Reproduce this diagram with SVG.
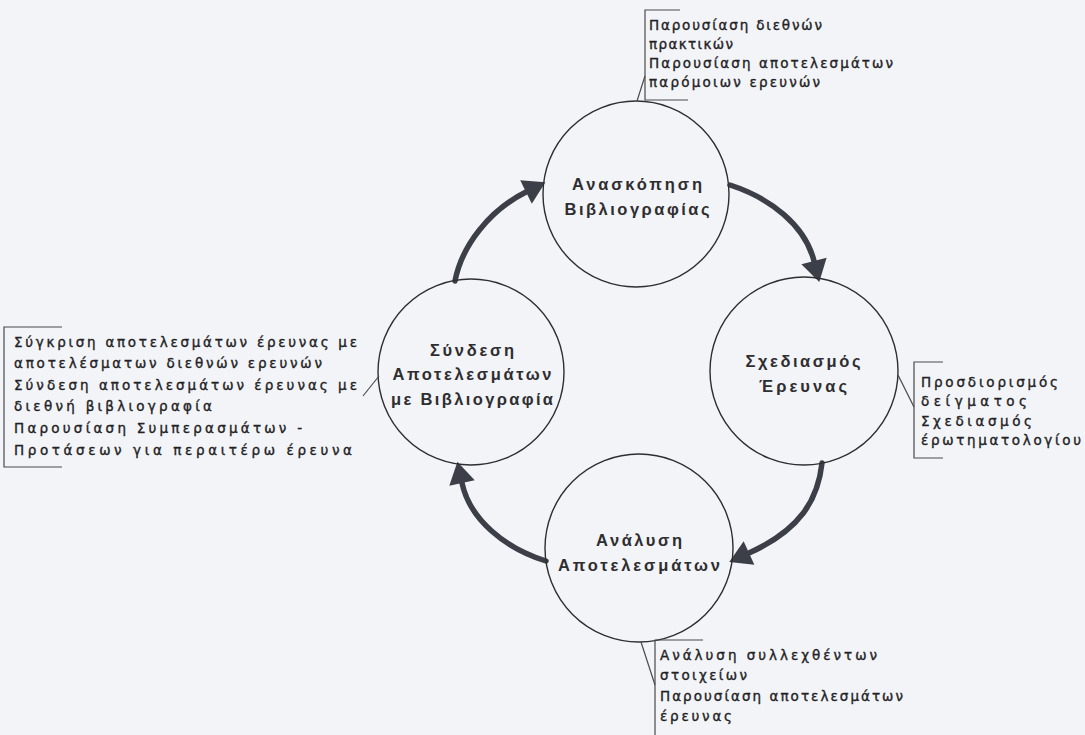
<svg xmlns="http://www.w3.org/2000/svg" width="1085" height="735" viewBox="0 0 1085 735">
  <defs>
    <style>
      .bg { fill: #f3f4f8; }
      .node circle { fill: none; stroke: #2e2e30; stroke-width: 1.4; }
      .node text { font-family: "Liberation Sans", Arial, sans-serif; font-size: 16.5px; font-weight: bold; fill: #2e2e30; text-anchor: middle; }
      .note text { font-family: "DejaVu Sans", "Liberation Sans", sans-serif; font-size: 13.5px; fill: #222224; stroke: #222224; stroke-width: 0.35; }
      .note path { fill: none; stroke: #4a4a4e; stroke-width: 1.2; }
      .arrow { fill: none; stroke: #3c3f47; stroke-width: 5.5; stroke-linecap: round; marker-end: url(#head); }
    </style>
    <marker id="head" markerUnits="userSpaceOnUse" markerWidth="24" markerHeight="26" refX="0" refY="12" orient="auto" viewBox="0 0 20 24">
      <path d="M0,0 L20,12 L0,24 Z" fill="#3c3f47"/>
    </marker>
  </defs>
  <rect class="bg" x="0" y="0" width="1085" height="735"/>

  <g id="connectors">
    <path class="arrow" d="M730,185 C770,198 805,225 814,261"/>
    <path class="arrow" d="M822,463 C818,500 800,530 749,553"/>
    <path class="arrow" d="M546,561 C505,548 470,520 462,483"/>
    <path class="arrow" d="M455,281 C462,245 490,210 526,192"/>
  </g>

  <g id="node-review" class="node">
    <circle cx="636" cy="194" r="93"/>
    <text x="637" y="190" textLength="130" lengthAdjust="spacing">Ανασκόπηση</text>
    <text x="637" y="215" textLength="145" lengthAdjust="spacing">Βιβλιογραφίας</text>
  </g>
  <g id="node-design" class="node">
    <circle cx="804" cy="371" r="94"/>
    <text x="803" y="367" textLength="115" lengthAdjust="spacing">Σχεδιασμός</text>
    <text x="803" y="392" textLength="88" lengthAdjust="spacing">Έρευνας</text>
  </g>
  <g id="node-analysis" class="node">
    <circle cx="639" cy="548" r="94"/>
    <text x="639" y="546" textLength="86" lengthAdjust="spacing">Ανάλυση</text>
    <text x="639" y="571" textLength="162" lengthAdjust="spacing">Αποτελεσμάτων</text>
  </g>
  <g id="node-link" class="node">
    <circle cx="471" cy="372" r="93"/>
    <text x="472" y="356" textLength="84" lengthAdjust="spacing">Σύνδεση</text>
    <text x="472" y="380" textLength="159" lengthAdjust="spacing">Αποτελεσμάτων</text>
    <text x="472" y="405" textLength="162" lengthAdjust="spacing">με Βιβλιογραφία</text>
  </g>

  <g id="note-review" class="note">
    <path d="M680,10 L645,10 L645,100 L688,100"/>
    <path d="M645,76 L637,101"/>
    <text x="649" y="30" textLength="173" lengthAdjust="spacing">Παρουσίαση διεθνών</text>
    <text x="649" y="49" textLength="84" lengthAdjust="spacing">πρακτικών</text>
    <text x="649" y="68" textLength="244" lengthAdjust="spacing">Παρουσίαση αποτελεσμάτων</text>
    <text x="649" y="87" textLength="171" lengthAdjust="spacing">παρόμοιων ερευνών</text>
  </g>
  <g id="note-design" class="note">
    <path d="M943,362 L914,362 L914,458 L943,458"/>
    <path d="M898,375 L914,407"/>
    <text x="921" y="387" textLength="137" lengthAdjust="spacing">Προσδιορισμός</text>
    <text x="921" y="406" textLength="106" lengthAdjust="spacing">δείγματος</text>
    <text x="921" y="426" textLength="111" lengthAdjust="spacing">Σχεδιασμός</text>
    <text x="921" y="445" textLength="160" lengthAdjust="spacing">έρωτηματολογίου</text>
  </g>
  <g id="note-analysis" class="note">
    <path d="M703,640 L655,640 L655,735"/>
    <path d="M641,642 L655,685"/>
    <text x="660" y="660" textLength="217" lengthAdjust="spacing">Ανάλυση συλλεχθέντων</text>
    <text x="660" y="680" textLength="87" lengthAdjust="spacing">στοιχείων</text>
    <text x="660" y="701" textLength="243" lengthAdjust="spacing">Παρουσίαση αποτελεσμάτων</text>
    <text x="660" y="721" textLength="72" lengthAdjust="spacing">έρευνας</text>
  </g>
  <g id="note-link" class="note">
    <path d="M62,327 L4,327 L4,467 L62,467"/>
    <path d="M363,396 L379,376"/>
    <text x="14" y="347" textLength="343" lengthAdjust="spacing">Σύγκριση αποτελεσμάτων έρευνας με</text>
    <text x="14" y="368" textLength="308" lengthAdjust="spacing">αποτελέσματων διεθνών ερευνών</text>
    <text x="14" y="390" textLength="343" lengthAdjust="spacing">Σύνδεση αποτελεσμάτων έρευνας με</text>
    <text x="14" y="411" textLength="198" lengthAdjust="spacing">διεθνή βιβλιογραφία</text>
    <text x="14" y="433" textLength="288" lengthAdjust="spacing">Παρουσίαση Συμπερασμάτων -</text>
    <text x="14" y="455" textLength="338" lengthAdjust="spacing">Προτάσεων για περαιτέρω έρευνα</text>
  </g>
</svg>
